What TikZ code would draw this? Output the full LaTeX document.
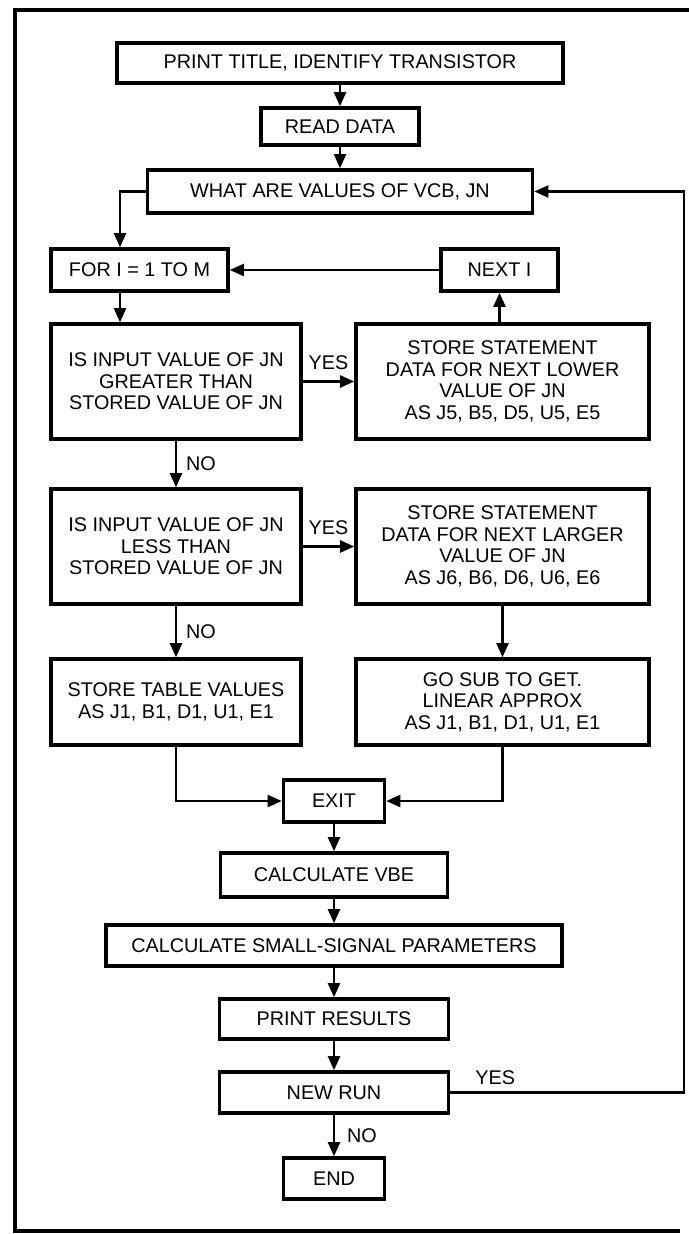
\documentclass[tikz,border=0pt]{standalone}
\usepackage{fontspec}
\setmainfont{Liberation Sans}
\usetikzlibrary{arrows.meta,calc}
\begin{document}
\begin{tikzpicture}[x=0.5pt,y=-0.5pt,
  txt/.style={font=\fontsize{9.9}{10.8}\selectfont},
  box/.style={txt,draw,line width=1.8pt,align=center,inner sep=0pt},
  conn/.style={line width=1.1pt},
  arr/.style={conn,-{Triangle[length=7pt,width=6pt]}},
  lbl/.style={txt,inner sep=1.5pt},
  frame/.style={line width=2.2pt}]
\useasboundingbox (0,0) rectangle (689,1234);

% outer frame (open on the right)
\draw[frame] (689,10) -- (15,10) -- (15,1231) -- (680,1231);

% main column
\node[box,minimum width=223pt,minimum height=20pt] (title) at (340,63) {PRINT TITLE, IDENTIFY TRANSISTOR};
\node[box,minimum width=79pt,minimum height=18.5pt] (read) at (340,126.5) {READ DATA};
\node[box,minimum width=192.5pt,minimum height=21.5pt] (what) at (340,191.5) {WHAT ARE VALUES OF VCB, JN};

% loop header and increment
\node[box,minimum width=88.5pt,minimum height=21pt] (fori) at (139.5,270) {FOR I = 1 TO M};
\node[box,minimum width=58.5pt,minimum height=21pt] (nexti) at (499.5,270) {NEXT I};

% comparisons
\node[box,minimum width=125pt,minimum height=57.5pt] (gt) at (176,381.5)
  {IS INPUT VALUE OF JN\\GREATER THAN\\STORED VALUE OF JN};
\node[box,minimum width=146.5pt,minimum height=57.5pt] (lower) at (502.5,381.5)
  {STORE STATEMENT\\DATA FOR NEXT LOWER\\VALUE OF JN\\AS J5, B5, D5, U5, E5};
\node[box,minimum width=125pt,minimum height=57.5pt] (lt) at (176,546.5)
  {IS INPUT VALUE OF JN\\LESS THAN\\STORED VALUE OF JN};
\node[box,minimum width=146.5pt,minimum height=57.5pt] (larger) at (502.5,546.5)
  {STORE STATEMENT\\DATA FOR NEXT LARGER\\VALUE OF JN\\AS J6, B6, D6, U6, E6};
\node[box,minimum width=125pt,minimum height=43pt] (table) at (176,702)
  {STORE TABLE VALUES\\AS J1, B1, D1, U1, E1};
\node[box,minimum width=146.5pt,minimum height=43pt] (gosub) at (502.5,702)
  {GO SUB TO GET.\\LINEAR APPROX\\AS J1, B1, D1, U1, E1};

% lower column
\node[box,minimum width=50.5pt,minimum height=21pt] (exit) at (334,801) {EXIT};
\node[box,minimum width=113.5pt,minimum height=22pt] (vbe) at (334,875) {CALCULATE VBE};
\node[box,minimum width=228pt,minimum height=20.5pt] (small) at (334,945.5) {CALCULATE SMALL-SIGNAL PARAMETERS};
\node[box,minimum width=114.5pt,minimum height=20pt] (results) at (334,1019) {PRINT RESULTS};
\node[box,minimum width=114.5pt,minimum height=20.5pt] (newrun) at (334,1092.5) {NEW RUN};
\node[box,minimum width=50.5pt,minimum height=20.5pt] (endb) at (334,1178.5) {END};

\coordinate (loopx) at (684,192);

% connectors
\draw[arr] (title) -- (read);
\draw[arr] (read) -- (what);
\draw[arr] (what.west) -| ([xshift=-9.75pt]fori.north);
\draw[arr] (nexti.west) -- (fori.east);
\draw[arr] ([xshift=-9.75pt]fori.south) -- ([xshift=-9.75pt]fori.south |- gt.north);
\draw[arr] (gt.east) -- node[lbl,above=4pt]{YES} (lower.west);
\draw[arr] (lower.north -| nexti.south) -- (nexti.south);
\draw[arr] (gt.south) -- node[lbl,right=3pt]{NO} (lt.north);
\draw[arr] (lt.east) -- node[lbl,above=4pt]{YES} (larger.west);
\draw[arr] (lt.south) -- node[lbl,right=3pt]{NO} (table.north);
\draw[arr] (larger.south) -- (gosub.north);
\draw[arr] (table.south) |- (exit.west);
\draw[arr] (gosub.south) |- (exit.east);
\draw[arr] (exit) -- (vbe);
\draw[arr] (vbe) -- (small);
\draw[arr] (small) -- (results);
\draw[arr] (results) -- (newrun);
\draw[arr] (newrun) -- node[lbl,right=4.5pt]{NO} (endb);
\draw[arr] (newrun.east) -- node[lbl,anchor=south west,pos=0.09,yshift=2pt]{YES} (newrun.east -| loopx) |- (what.east);
\end{tikzpicture}
\end{document}
